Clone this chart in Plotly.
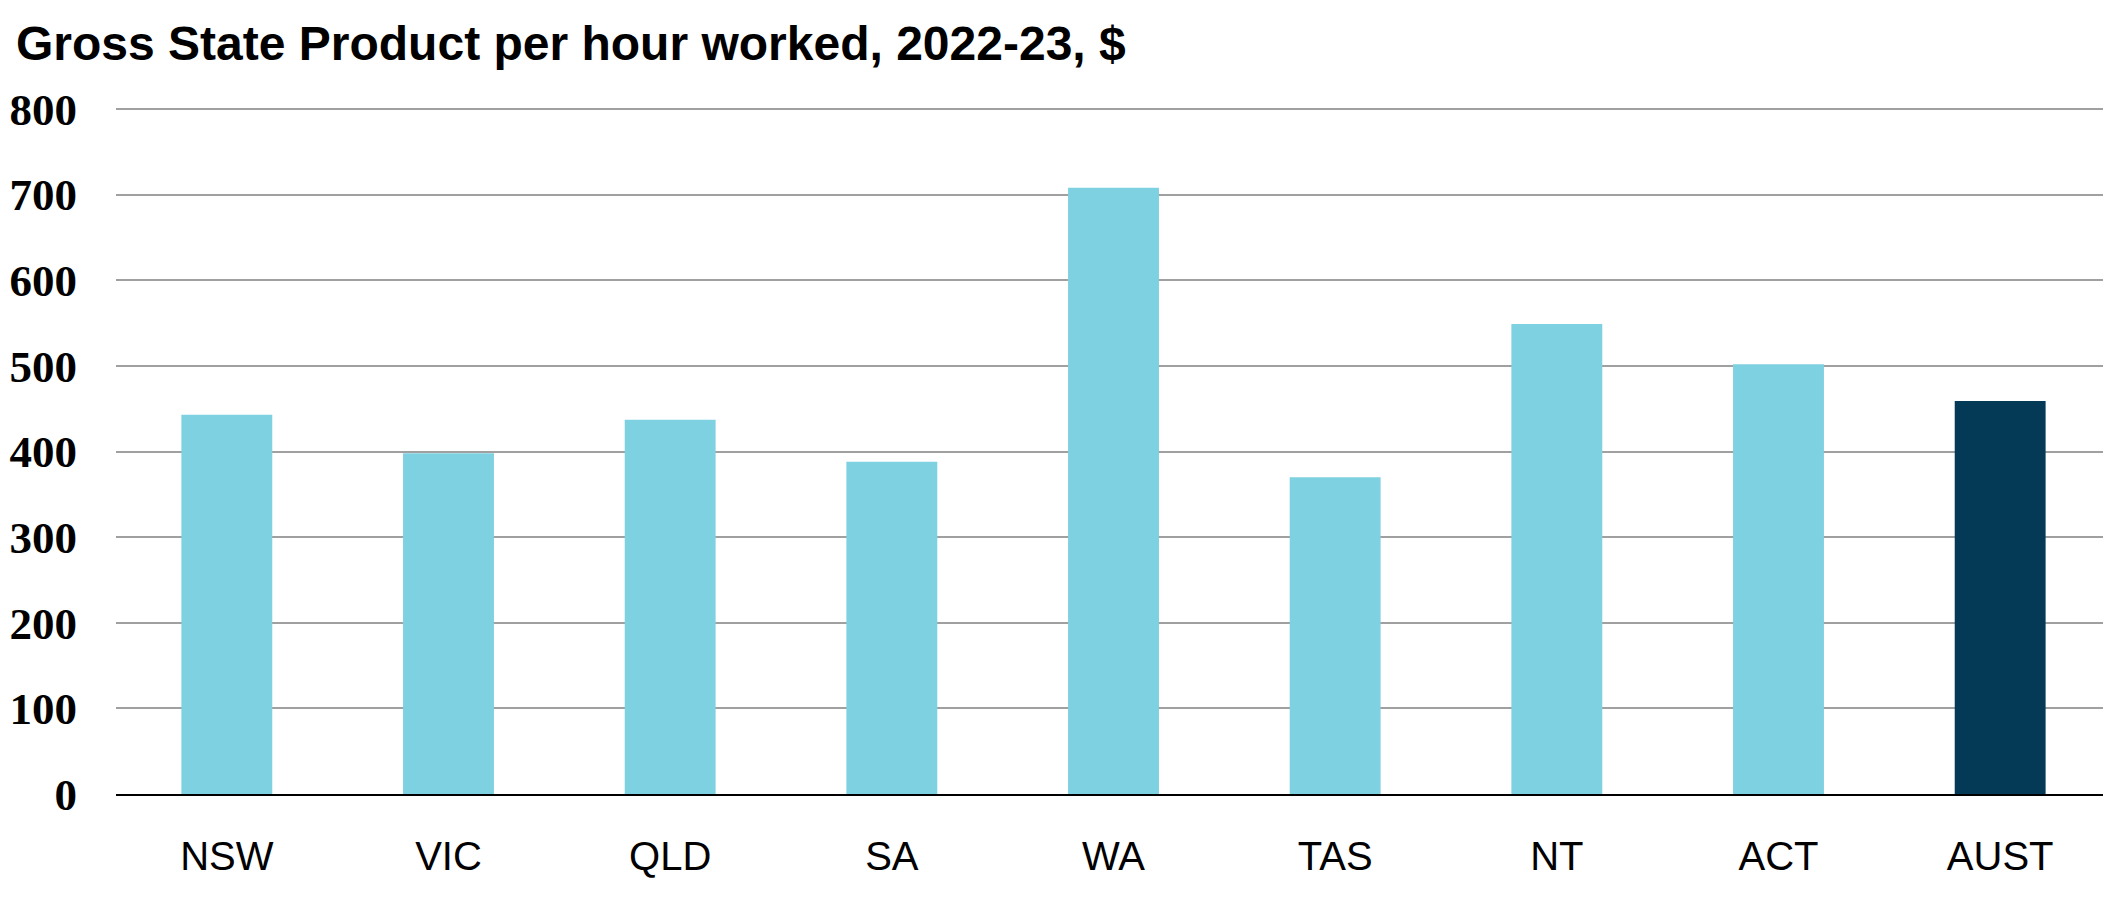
import plotly.graph_objects as go

states = ["NSW", "VIC", "QLD", "SA", "WA", "TAS", "NT", "ACT", "AUST"]
gsp_per_hour = [443, 398, 437, 388, 708, 370, 549, 502, 459]
bar_colours = ["#7dd1e1"] * 8 + ["#043a56"]
y_ticks = [0, 100, 200, 300, 400, 500, 600, 700, 800]

# page body has an 8px margin, so the figure is drawn 8px smaller
fig = go.Figure()
fig.add_trace(go.Bar(x=states, y=gsp_per_hour, marker_color=bar_colours,
                     marker_line_width=0, hoverinfo="x+y"))

fig.update_layout(
    width=2103, height=903,
    margin=dict(l=108, r=0, t=98, b=117, autoexpand=False),
    plot_bgcolor="white", paper_bgcolor="white",
    bargap=0.59,
    showlegend=False,
    title=dict(text="<b>Gross State Product per hour worked, 2022-23, $</b>",
               xref="container", yref="container", x=8 / 2103, xanchor="left",
               y=1 - 35 / 903, yanchor="middle",
               font=dict(family="Liberation Sans", size=48, color="black")),
)
fig.update_xaxes(tickfont=dict(family="Liberation Sans", size=40, color="black"),
                 showline=True, linecolor="black", linewidth=2,
                 ticks="", ticklabelstandoff=26, automargin=False)
fig.update_yaxes(range=[0, 803.5], tickvals=y_ticks,
                 tickfont=dict(family="Liberation Serif, Times New Roman", size=45,
                               color="black", weight="bold"),
                 showgrid=True, gridcolor="#a0a0a0", gridwidth=2,
                 zeroline=False, ticks="", ticklabelstandoff=38, automargin=False)

fig.write_html("out.html")
